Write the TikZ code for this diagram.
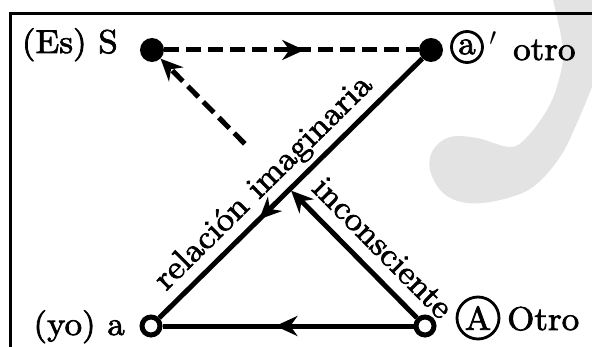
\documentclass[tikz,border=0pt]{standalone}
\usepackage{fontspec}
\newfontfamily\diagfont{lmroman10-regular.otf}[FakeStretch=1.06,FakeBold=2.2]
\usetikzlibrary{arrows.meta,decorations.markings,calc}
\begin{document}
\begin{tikzpicture}[x=1pt,y=1pt,
  lbl/.style={font=\diagfont\fontsize{33}{33}\selectfont, inner sep=0pt},
  fulldot/.style={circle, fill=black, minimum size=24pt, inner sep=0pt},
  opendot/.style={circle, draw=black, line width=5pt, fill=white, minimum size=18pt, inner sep=0pt},
  circled/.style={circle, draw=black, line width=2.8pt, inner sep=0pt},
  conn/.style={line width=5pt},
  dashconn/.style={line width=5pt, dash pattern=on 15pt off 7pt},
  midarrow/.style={postaction={decorate}, decoration={markings,
      mark=at position #1 with {\arrow{Stealth[length=22pt,width=20pt]}}}},
  >={Stealth[length=22pt,width=20pt]},
  wm/.style={fill=black!11}
]
\useasboundingbox (0,0) rectangle (592,346);
\clip (0,0) rectangle (592,346);
% watermark
\fill[wm] (548,352) -- plot[smooth, tension=0.6] coordinates {(553,346) (563,296) (558,263) (547,236) (527,209) (510,199) (477,208) (450,209) (433,196) (430,176) (443,153) (467,143) (500,146) (533,159) (560,189) (577,223) (592,259)} -- (600,240) -- (600,352) -- cycle;
% frame
\draw[line width=3pt] (10,-5) -- (10,332) -- (600,332);
% nodes
\node[fulldot] (S) at (152,296) {};
\node[fulldot] (ap) at (431,296) {};
\node[opendot] (a) at (151,20) {};
\node[opendot] (A) at (425,20) {};
\coordinate (X) at (289.7,156.8);
\coordinate (Y) at ($(A)!0.66!(S)$);
% connectors
\draw[dashconn, midarrow=0.55] (S) -- (ap);
\draw[conn, midarrow=0.62] (ap) -- (a);
\draw[conn, midarrow=0.55] (A) -- (a);
\draw[conn, ->, shorten >=2pt] (A) -- (X);
\draw[dashconn, ->] (Y) -- (S);
% rotated labels
\path (a.center) -- (ap.center) node[lbl, pos=0.46, sloped, above=7pt] (ri) {relación imaginaria};
\path (S.center) -- (A.center) node[lbl, pos=0.78, sloped, above=14pt] (inc) {inconsciente};
% text labels
\node[lbl, anchor=base east] (es) at (118,293) {(Es) S};
\node[lbl, anchor=base east] (yo) at (125,11) {(yo) a};
\node[lbl, circled, minimum size=31pt] (ca) at (467,299) {a};
\node[lbl] (pr) at (493,303) {$^\prime$};
\node[lbl, anchor=base west] (ot) at (513,286) {otro};
\node[lbl, circled, fill=white, minimum size=42pt] (cA) at (478,28) {A};
\node[lbl, anchor=base west] (Ot) at (507,16) {Otro};
\end{tikzpicture}
\end{document}
